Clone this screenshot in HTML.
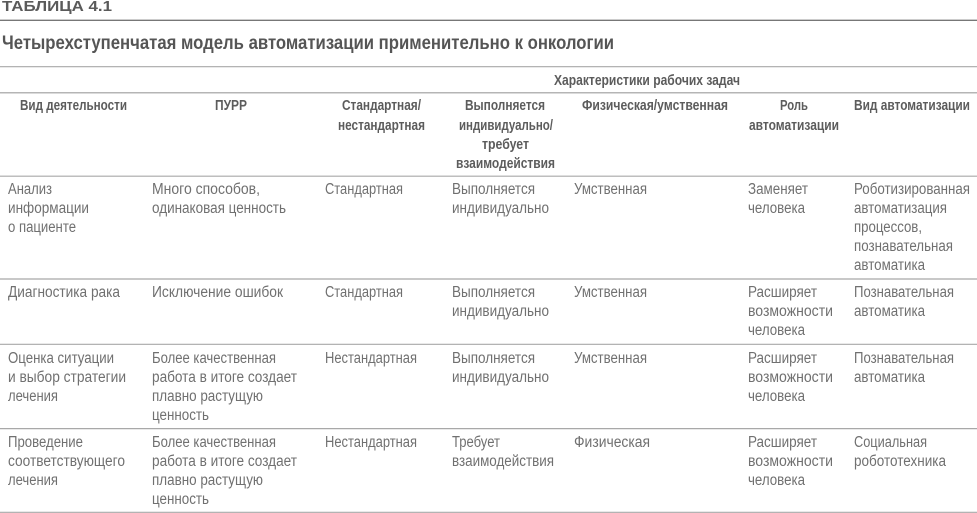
<!DOCTYPE html>
<html lang="ru">
<head>
<meta charset="utf-8">
<title>Таблица 4.1</title>
<style>
html,body{margin:0;padding:0;background:#fff;width:977px;height:513px;overflow:hidden}
svg{display:block}
text{font-family:"Liberation Sans","DejaVu Sans",sans-serif;font-size:15.5px;fill:#707070;letter-spacing:0}
.h text{font-weight:700;font-size:14.5px;fill:#5c5c5c}
line{stroke:#a8a8a8;stroke-width:1.2}
</style>
</head>
<body>
<svg width="977" height="513" viewBox="0 0 977 513" xmlns="http://www.w3.org/2000/svg">
<line x1="0" y1="20.3" x2="977" y2="20.3" style="stroke:#777;stroke-width:1.3"/>
<line x1="0" y1="66.7" x2="977" y2="66.7"/>
<line x1="0" y1="92.7" x2="977" y2="92.7" style="stroke:#b5b5b5;stroke-width:1.5"/>
<line x1="0" y1="176.2" x2="977" y2="176.2"/>
<line x1="0" y1="279" x2="977" y2="279"/>
<line x1="0" y1="344.3" x2="977" y2="344.3"/>
<line x1="0" y1="428.6" x2="977" y2="428.6"/>
<line x1="0" y1="512.3" x2="977" y2="512.3"/>

<text x="2" y="11" textLength="110" lengthAdjust="spacingAndGlyphs" style="font-weight:700;font-size:15px;fill:#5a5a5a">ТАБЛИЦА 4.1</text>
<text x="2" y="49" textLength="612" lengthAdjust="spacingAndGlyphs" style="font-weight:700;font-size:19px;fill:#555">Четырехступенчатая модель автоматизации применительно к онкологии</text>

<g class="h">
<text x="554" y="85" textLength="186" lengthAdjust="spacingAndGlyphs">Характеристики рабочих задач</text>
<text x="20" y="110" textLength="107" lengthAdjust="spacingAndGlyphs">Вид деятельности</text>
<text x="215" y="110" textLength="32" lengthAdjust="spacingAndGlyphs">ПУРР</text>
<text x="342" y="110" textLength="79" lengthAdjust="spacingAndGlyphs">Стандартная/</text>
<text x="338" y="130" textLength="87" lengthAdjust="spacingAndGlyphs">нестандартная</text>
<text x="465" y="110" textLength="80" lengthAdjust="spacingAndGlyphs">Выполняется</text>
<text x="459" y="130" textLength="94" lengthAdjust="spacingAndGlyphs">индивидуально/</text>
<text x="482" y="149" textLength="47" lengthAdjust="spacingAndGlyphs">требует</text>
<text x="456" y="168" textLength="99" lengthAdjust="spacingAndGlyphs">взаимодействия</text>
<text x="582" y="110" textLength="146" lengthAdjust="spacingAndGlyphs">Физическая/умственная</text>
<text x="780" y="110" textLength="28" lengthAdjust="spacingAndGlyphs">Роль</text>
<text x="749" y="130" textLength="90" lengthAdjust="spacingAndGlyphs">автоматизации</text>
<text x="854" y="110" textLength="116" lengthAdjust="spacingAndGlyphs">Вид автоматизации</text>
</g>

<!-- Row 1 -->
<text x="8" y="194" textLength="44" lengthAdjust="spacingAndGlyphs">Анализ</text>
<text x="8" y="213" textLength="81" lengthAdjust="spacingAndGlyphs">информации</text>
<text x="8" y="232" textLength="68" lengthAdjust="spacingAndGlyphs">о пациенте</text>
<text x="152" y="194" textLength="108" lengthAdjust="spacingAndGlyphs">Много способов,</text>
<text x="152" y="213" textLength="134" lengthAdjust="spacingAndGlyphs">одинаковая ценность</text>
<text x="325" y="194" textLength="78" lengthAdjust="spacingAndGlyphs">Стандартная</text>
<text x="452" y="194" textLength="83" lengthAdjust="spacingAndGlyphs">Выполняется</text>
<text x="452" y="213" textLength="97" lengthAdjust="spacingAndGlyphs">индивидуально</text>
<text x="574" y="194" textLength="73" lengthAdjust="spacingAndGlyphs">Умственная</text>
<text x="748" y="194" textLength="60" lengthAdjust="spacingAndGlyphs">Заменяет</text>
<text x="748" y="213" textLength="57" lengthAdjust="spacingAndGlyphs">человека</text>
<text x="854" y="194" textLength="116" lengthAdjust="spacingAndGlyphs">Роботизированная</text>
<text x="854" y="213" textLength="93" lengthAdjust="spacingAndGlyphs">автоматизация</text>
<text x="854" y="232" textLength="68" lengthAdjust="spacingAndGlyphs">процессов,</text>
<text x="854" y="251" textLength="99" lengthAdjust="spacingAndGlyphs">познавательная</text>
<text x="854" y="270" textLength="71" lengthAdjust="spacingAndGlyphs">автоматика</text>

<!-- Row 2 -->
<text x="8" y="297" textLength="112" lengthAdjust="spacingAndGlyphs">Диагностика рака</text>
<text x="152" y="297" textLength="131" lengthAdjust="spacingAndGlyphs">Исключение ошибок</text>
<text x="325" y="297" textLength="78" lengthAdjust="spacingAndGlyphs">Стандартная</text>
<text x="452" y="297" textLength="83" lengthAdjust="spacingAndGlyphs">Выполняется</text>
<text x="452" y="316" textLength="97" lengthAdjust="spacingAndGlyphs">индивидуально</text>
<text x="574" y="297" textLength="73" lengthAdjust="spacingAndGlyphs">Умственная</text>
<text x="748" y="297" textLength="69" lengthAdjust="spacingAndGlyphs">Расширяет</text>
<text x="748" y="316" textLength="85" lengthAdjust="spacingAndGlyphs">возможности</text>
<text x="748" y="335" textLength="57" lengthAdjust="spacingAndGlyphs">человека</text>
<text x="854" y="297" textLength="100" lengthAdjust="spacingAndGlyphs">Познавательная</text>
<text x="854" y="316" textLength="71" lengthAdjust="spacingAndGlyphs">автоматика</text>

<!-- Row 3 -->
<text x="8" y="363" textLength="106" lengthAdjust="spacingAndGlyphs">Оценка ситуации</text>
<text x="8" y="382" textLength="118" lengthAdjust="spacingAndGlyphs">и выбор стратегии</text>
<text x="8" y="401" textLength="50" lengthAdjust="spacingAndGlyphs">лечения</text>
<text x="152" y="363" textLength="124" lengthAdjust="spacingAndGlyphs">Более качественная</text>
<text x="152" y="382" textLength="145" lengthAdjust="spacingAndGlyphs">работа в итоге создает</text>
<text x="152" y="401" textLength="111" lengthAdjust="spacingAndGlyphs">плавно растущую</text>
<text x="152" y="420" textLength="57" lengthAdjust="spacingAndGlyphs">ценность</text>
<text x="325" y="363" textLength="92" lengthAdjust="spacingAndGlyphs">Нестандартная</text>
<text x="452" y="363" textLength="83" lengthAdjust="spacingAndGlyphs">Выполняется</text>
<text x="452" y="382" textLength="97" lengthAdjust="spacingAndGlyphs">индивидуально</text>
<text x="574" y="363" textLength="73" lengthAdjust="spacingAndGlyphs">Умственная</text>
<text x="748" y="363" textLength="69" lengthAdjust="spacingAndGlyphs">Расширяет</text>
<text x="748" y="382" textLength="85" lengthAdjust="spacingAndGlyphs">возможности</text>
<text x="748" y="401" textLength="57" lengthAdjust="spacingAndGlyphs">человека</text>
<text x="854" y="363" textLength="100" lengthAdjust="spacingAndGlyphs">Познавательная</text>
<text x="854" y="382" textLength="71" lengthAdjust="spacingAndGlyphs">автоматика</text>

<!-- Row 4 -->
<text x="8" y="447" textLength="75" lengthAdjust="spacingAndGlyphs">Проведение</text>
<text x="8" y="466" textLength="117" lengthAdjust="spacingAndGlyphs">соответствующего</text>
<text x="8" y="485" textLength="50" lengthAdjust="spacingAndGlyphs">лечения</text>
<text x="152" y="447" textLength="124" lengthAdjust="spacingAndGlyphs">Более качественная</text>
<text x="152" y="466" textLength="145" lengthAdjust="spacingAndGlyphs">работа в итоге создает</text>
<text x="152" y="485" textLength="111" lengthAdjust="spacingAndGlyphs">плавно растущую</text>
<text x="152" y="504" textLength="57" lengthAdjust="spacingAndGlyphs">ценность</text>
<text x="325" y="447" textLength="92" lengthAdjust="spacingAndGlyphs">Нестандартная</text>
<text x="452" y="447" textLength="48" lengthAdjust="spacingAndGlyphs">Требует</text>
<text x="452" y="466" textLength="102" lengthAdjust="spacingAndGlyphs">взаимодействия</text>
<text x="574" y="447" textLength="76" lengthAdjust="spacingAndGlyphs">Физическая</text>
<text x="748" y="447" textLength="69" lengthAdjust="spacingAndGlyphs">Расширяет</text>
<text x="748" y="466" textLength="85" lengthAdjust="spacingAndGlyphs">возможности</text>
<text x="748" y="485" textLength="57" lengthAdjust="spacingAndGlyphs">человека</text>
<text x="854" y="447" textLength="73" lengthAdjust="spacingAndGlyphs">Социальная</text>
<text x="854" y="466" textLength="92" lengthAdjust="spacingAndGlyphs">робототехника</text>
</svg>
</body>
</html>
